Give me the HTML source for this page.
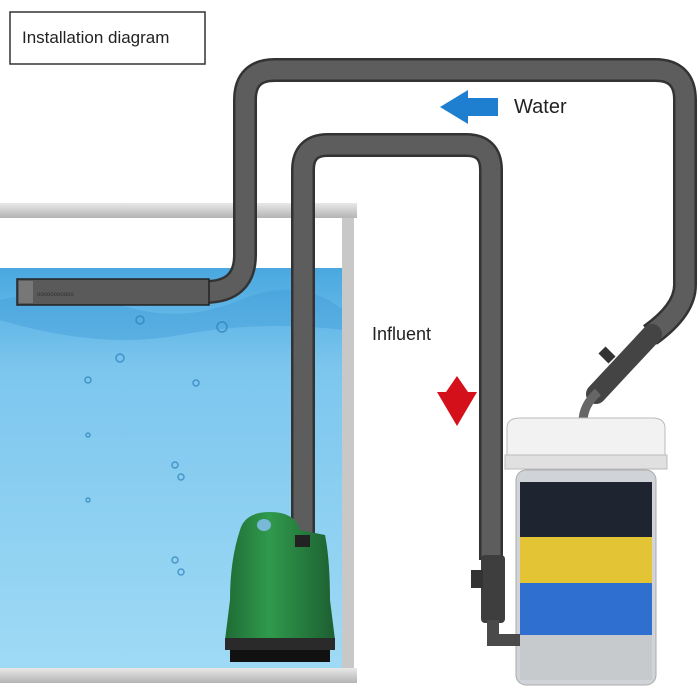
<!DOCTYPE html>
<html><head><style>body{margin:0;background:#fff}svg{display:block}</style></head><body>
<svg width="700" height="700" viewBox="0 0 700 700" xmlns="http://www.w3.org/2000/svg">
<defs>
<linearGradient id="w" x1="0" y1="0" x2="0" y2="1">
<stop offset="0" stop-color="#4aa8e0"/><stop offset="0.25" stop-color="#7cc6ee"/><stop offset="1" stop-color="#9fdaf5"/></linearGradient>
<linearGradient id="rim" x1="0" y1="0" x2="0" y2="1"><stop offset="0" stop-color="#e8e8e8"/><stop offset="1" stop-color="#b4b4b4"/></linearGradient>
<linearGradient id="g" x1="0" y1="0" x2="1" y2="0"><stop offset="0" stop-color="#1f6b35"/><stop offset="0.4" stop-color="#2f9a4c"/><stop offset="1" stop-color="#1d5f31"/></linearGradient>
</defs>
<rect x="10" y="12" width="195" height="52" fill="#fff" stroke="#333" stroke-width="1.5"/>
<text x="22" y="43" font-family="Liberation Sans, sans-serif" font-size="17" fill="#222">Installation diagram</text>
<rect x="0" y="268" width="343" height="400" fill="url(#w)"/>
<path d="M0 300 Q60 285 120 305 T240 300 T343 310 L343 330 Q260 320 180 335 T0 320Z" fill="#3f9bd8" opacity="0.4"/>
<g fill="none" stroke="#2a7fb8" stroke-width="1.5" opacity="0.7">
<circle cx="140" cy="320" r="4"/><circle cx="222" cy="327" r="5"/><circle cx="120" cy="358" r="4"/><circle cx="88" cy="380" r="3"/><circle cx="196" cy="383" r="3"/><circle cx="175" cy="465" r="3"/><circle cx="181" cy="477" r="3"/><circle cx="175" cy="560" r="3"/><circle cx="181" cy="572" r="3"/><circle cx="88" cy="435" r="2"/><circle cx="88" cy="500" r="2"/></g>
<rect x="0" y="203" width="357" height="15" fill="url(#rim)"/>
<rect x="342" y="218" width="12" height="452" fill="#c8c8c8"/>
<rect x="0" y="668" width="357" height="15" fill="url(#rim)"/>
<g fill="none" stroke-linecap="butt">
<path d="M205 292 Q245 292 245 255 L245 100 Q245 70 275 70 L655 70 Q685 70 685 100 L685 285 Q685 310 650 335" stroke="#333" stroke-width="24"/>
<path d="M205 292 Q245 292 245 255 L245 100 Q245 70 275 70 L655 70 Q685 70 685 100 L685 285 Q685 310 650 335" stroke="#5d5d5d" stroke-width="19"/>
<path d="M303 545 L303 170 Q303 145 328 145 L466 145 Q491 145 491 170 L491 560" stroke="#333" stroke-width="24"/>
<path d="M303 545 L303 170 Q303 145 328 145 L466 145 Q491 145 491 170 L491 560" stroke="#5d5d5d" stroke-width="19"/>
</g>
<rect x="17" y="279" width="192" height="26" fill="#5a5a5a" stroke="#222" stroke-width="1.5"/>
<rect x="19" y="281" width="14" height="22" fill="#777"/>
<text x="37" y="296" font-family="Liberation Sans, sans-serif" font-size="6" fill="#333">ooooooooooo</text>
<path d="M240 530 Q245 512 270 512 Q295 512 300 530 L325 535 Q330 560 330 600 L335 640 L225 640 L230 600 Q230 560 240 530Z" fill="url(#g)"/>
<ellipse cx="264" cy="525" rx="7" ry="6" fill="#7ab8d8"/>
<rect x="295" y="535" width="15" height="12" fill="#222"/>
<rect x="225" y="638" width="110" height="12" fill="#2a2a2a"/>
<rect x="230" y="650" width="100" height="12" fill="#111"/>
<polygon points="440,107 468,90 468,98 498,98 498,116 468,116 468,124" fill="#1e7fd0"/>
<text x="514" y="113" font-family="Liberation Sans, sans-serif" font-size="20" fill="#222">Water</text>
<text x="372" y="340" font-family="Liberation Sans, sans-serif" font-size="18" fill="#222">Influent</text>
<polygon points="457,376 468,392 477,392 457,426 437,392 446,392" fill="#d4101a"/>
<!-- top valve -->
<path d="M652 334 L596 394" stroke="#444" stroke-width="20" stroke-linecap="round"/>
<path d="M612 360 L602 350" stroke="#333" stroke-width="10"/>
<path d="M598 392 Q583 405 583 422" stroke="#666" stroke-width="9" fill="none"/>
<rect x="516" y="470" width="140" height="215" rx="10" fill="#d0d4d8" stroke="#aaa"/>
<rect x="520" y="482" width="132" height="55" fill="#1e2430"/>
<rect x="520" y="537" width="132" height="46" fill="#e2c435"/>
<rect x="520" y="583" width="132" height="52" fill="#2f6fcf"/>
<rect x="520" y="635" width="132" height="45" fill="#c6cacd"/>
<path d="M507 428 Q507 418 520 418 L652 418 Q665 418 665 428 L665 465 L507 465Z" fill="#f2f2f2" stroke="#bbb"/>
<rect x="505" y="455" width="162" height="14" fill="#e0e0e0" stroke="#bbb"/>
<rect x="481" y="555" width="24" height="68" rx="4" fill="#3e3e3e"/>
<rect x="471" y="570" width="12" height="18" fill="#333"/>
<path d="M493 620 L493 640 L520 640" stroke="#4a4a4a" stroke-width="12" fill="none"/>
</svg>
</body></html>
